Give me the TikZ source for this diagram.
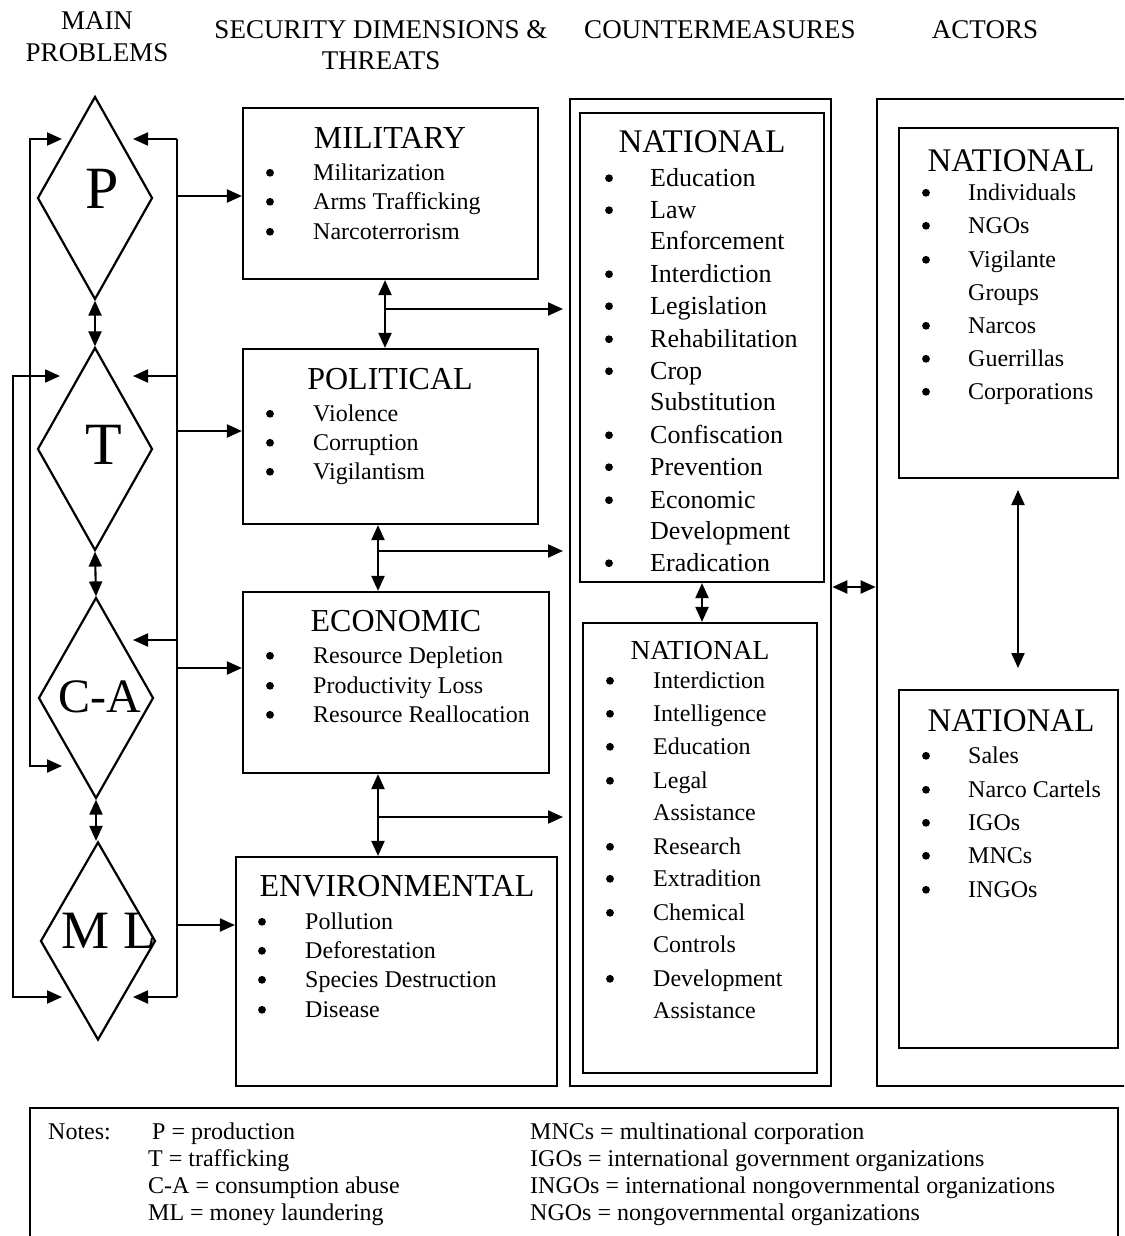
\documentclass[tikz,border=0pt]{standalone}
\usepackage{fontspec}
\setmainfont{Liberation Serif}
\usetikzlibrary{arrows.meta,shapes.geometric}
\newcommand\fsz[1]{\fontsize{#1}{#1}\selectfont}
\newcommand\bbox[6]{\node[#1,minimum width={#4pt-#2pt},minimum height={#5pt-#3pt}] (#6) at ({(#2+#4)/2},{(#3+#5)/2}) {};}
\newcommand\bitem[5]{\fill (#1,{#3-0.3*#4}) circle (3.9);\node[tl,font=\fsz{#4}] at (#2,#3) {#5};}
\begin{document}
\begin{tikzpicture}[x=1pt,y=-1pt,
  ln/.style={line width=2.1pt},
  arr/.style={ln,-{Triangle[length=15pt,width=13pt]}},
  dar/.style={ln,{Triangle[length=15pt,width=13pt]}-{Triangle[length=15pt,width=13pt]}},
  dia/.style={draw,diamond,line width=2.2pt,inner sep=0pt,aspect=0.567},
  bx/.style={draw,line width=2.2pt,inner sep=0pt},
  obx/.style={draw,line width=2.7pt,inner sep=0pt},
  tl/.style={inner sep=0pt,anchor=base west},
  tc/.style={inner sep=0pt,anchor=base},
]
\useasboundingbox (0,0) rectangle (1124,1236);
\clip (0,0) rectangle (1124,1236);
\fill[white] (0,0) rectangle (1124,1236);

% headers
\node[tc,font=\fsz{27}] (h1a) at (97,30) {MAIN};
\node[tc,font=\fsz{27}] (h1b) at (97,62) {PROBLEMS};
\node[tc,font=\fsz{27}] (h2a) at (381,39) {SECURITY DIMENSIONS \&};
\node[tc,font=\fsz{27}] (h2b) at (381,70) {THREATS};
\node[tc,font=\fsz{27}] (h3) at (720,39) {COUNTERMEASURES};
\node[tc,font=\fsz{27}] (h4) at (985,39) {ACTORS};

% diamonds
\node[dia,minimum width=115pt,minimum height=203pt] (P) at (95,198) {};
\node[dia,minimum width=115pt,minimum height=203pt] (T) at (95,449) {};
\node[dia,minimum width=115pt,minimum height=201pt] (CA) at (96,698) {};
\node[dia,minimum width=115pt,minimum height=198pt] (ML) at (98,941) {};
\node[inner sep=0pt,font=\fsz{60}] (Pl) at (102,188.5) {P};
\node[inner sep=0pt,font=\fsz{60}] (Tl) at (104,445) {T};
\node[inner sep=0pt,font=\fsz{48}] (CAl) at (100,697) {C-A};
\node[inner sep=0pt,font=\fsz{54}] (MLl) at (109,931) {M L};

\draw[dar] (P.south) -- (T.north);
\draw[dar] (T.south) -- (CA.north);
\draw[dar] (CA.south) -- (CA.south |- ML.north);

% buses
\coordinate (l1a) at (62,139); \coordinate (l1b) at (62,766);
\coordinate (l2a) at (60,376); \coordinate (l2b) at (62,997);
\draw[dar] (l1a) -- (30,139) -- (30,766) -- (l1b);
\draw[dar] (l2a) -- (13,376) -- (13,997) -- (l2b);

\coordinate (rb1) at (177,139); \coordinate (rb2) at (177,376);
\coordinate (rb3) at (177,640); \coordinate (rb4) at (177,997);
\draw[ln] (rb1) -- (rb4);
\draw[arr] (rb1) -- (133,139);
\draw[arr] (rb2) -- (133,376);
\draw[arr] (rb3) -- (133,640);
\draw[arr] (rb4) -- (133,997);

% security boxes
\bbox{bx}{243}{108}{538}{279}{MIL}
\bbox{bx}{243}{349}{538}{524}{POL}
\bbox{bx}{243}{592}{549}{773}{ECO}
\bbox{bx}{236}{857}{557}{1086}{ENV}

\coordinate (rm) at (177,196); \coordinate (rp) at (177,431);
\coordinate (re) at (177,668); \coordinate (rv) at (177,925);
\draw[arr] (rm) -- (MIL.west |- rm);
\draw[arr] (rp) -- (POL.west |- rp);
\draw[arr] (re) -- (ECO.west |- re);
\draw[arr] (rv) -- (ENV.west |- rv);

% countermeasure and actor boxes
\bbox{obx}{570}{99}{831}{1086}{CM}
\bbox{bx}{580}{113}{824}{582}{CMa}
\bbox{bx}{583}{623}{817}{1073}{CMb}
\bbox{obx}{877}{99}{1160}{1086}{AC}
\bbox{bx}{899}{128}{1118}{478}{ACa}
\bbox{bx}{899}{690}{1118}{1048}{ACb}
\bbox{bx}{30}{1108}{1118}{1300}{NT}

% vertical links between security boxes
\coordinate (v1) at (385,309); \coordinate (v2) at (378,551); \coordinate (v3) at (378,817);
\draw[dar] (MIL.south -| v1) -- (POL.north -| v1);
\draw[arr] (v1) -- (563,309);
\draw[dar] (POL.south -| v2) -- (ECO.north -| v2);
\draw[arr] (v2) -- (563,551);
\draw[dar] (ECO.south -| v3) -- (ENV.north -| v3);
\draw[arr] (v3) -- (563,817);

\draw[dar] (CMa.south) -- (CMb.north -| CMa.south);
\coordinate (ca1) at (831,587);
\draw[dar] (CM.east |- ca1) -- (AC.west |- ca1);
\draw[dar] (1018,490) -- (1018,668);

% security texts
\node[tc,font=\fsz{32}] (tMIL) at (390,148) {MILITARY};
\bitem{270}{313}{180}{24}{Militarization}
\bitem{270}{313}{209}{24}{Arms Trafficking}
\bitem{270}{313}{239}{24}{Narcoterrorism}
\node[tc,font=\fsz{32}] (tPOL) at (390,389) {POLITICAL};
\bitem{270}{313}{421}{24}{Violence}
\bitem{270}{313}{450}{24}{Corruption}
\bitem{270}{313}{479}{24}{Vigilantism}
\node[tc,font=\fsz{32}] (tECO) at (396,631) {ECONOMIC};
\bitem{270}{313}{663}{24}{Resource Depletion}
\bitem{270}{313}{693}{24}{Productivity Loss}
\bitem{270}{313}{722}{24}{Resource Reallocation}
\node[tc,font=\fsz{32}] (tENV) at (397,896) {ENVIRONMENTAL};
\bitem{262}{305}{929}{24}{Pollution}
\bitem{262}{305}{958}{24}{Deforestation}
\bitem{262}{305}{987}{24}{Species Destruction}
\bitem{262}{305}{1017}{24}{Disease}

% countermeasures top
\node[tc,font=\fsz{33}] (tCMa) at (702,152) {NATIONAL};
\bitem{609}{650}{186}{26}{Education}
\bitem{609}{650}{218}{26}{Law}
\node[tl,font=\fsz{26}] at (650,249) {Enforcement};
\bitem{609}{650}{282}{26}{Interdiction}
\bitem{609}{650}{314}{26}{Legislation}
\bitem{609}{650}{347}{26}{Rehabilitation}
\bitem{609}{650}{379}{26}{Crop}
\node[tl,font=\fsz{26}] at (650,410) {Substitution};
\bitem{609}{650}{443}{26}{Confiscation}
\bitem{609}{650}{475}{26}{Prevention}
\bitem{609}{650}{508}{26}{Economic}
\node[tl,font=\fsz{26}] at (650,539) {Development};
\bitem{609}{650}{571}{26}{Eradication}

% countermeasures bottom
\node[tc,font=\fsz{27.5}] (tCMb) at (700,659) {NATIONAL};
\bitem{610}{653}{688}{24}{Interdiction}
\bitem{610}{653}{721}{24}{Intelligence}
\bitem{610}{653}{754}{24}{Education}
\bitem{610}{653}{788}{24}{Legal}
\node[tl,font=\fsz{24}] at (653,820) {Assistance};
\bitem{610}{653}{854}{24}{Research}
\bitem{610}{653}{886}{24}{Extradition}
\bitem{610}{653}{920}{24}{Chemical}
\node[tl,font=\fsz{24}] at (653,952) {Controls};
\bitem{610}{653}{986}{24}{Development}
\node[tl,font=\fsz{24}] at (653,1018) {Assistance};

% actors
\node[tc,font=\fsz{33}] (tACa) at (1011,171) {NATIONAL};
\bitem{926}{968}{200}{24}{Individuals}
\bitem{926}{968}{233}{24}{NGOs}
\bitem{926}{968}{267}{24}{Vigilante}
\node[tl,font=\fsz{24}] at (968,300) {Groups};
\bitem{926}{968}{333}{24}{Narcos}
\bitem{926}{968}{366}{24}{Guerrillas}
\bitem{926}{968}{399}{24}{Corporations}
\node[tc,font=\fsz{33}] (tACb) at (1011,731) {NATIONAL};
\bitem{926}{968}{763}{24}{Sales}
\bitem{926}{968}{797}{24}{Narco Cartels}
\bitem{926}{968}{830}{24}{IGOs}
\bitem{926}{968}{863}{24}{MNCs}
\bitem{926}{968}{897}{24}{INGOs}

% notes
\node[tl,font=\fsz{24}] (n0) at (48,1139) {Notes:};
\node[tl,font=\fsz{24}] (n1) at (152,1139) {P = production};
\node[tl,font=\fsz{24}] (n2) at (148,1166) {T = trafficking};
\node[tl,font=\fsz{24}] (n3) at (148,1193) {C-A = consumption abuse};
\node[tl,font=\fsz{24}] (n4) at (148,1220) {ML = money laundering};
\node[tl,font=\fsz{24}] (n5) at (530,1139) {MNCs = multinational corporation};
\node[tl,font=\fsz{24}] (n6) at (530,1166) {IGOs = international government organizations};
\node[tl,font=\fsz{24}] (n7) at (530,1193) {INGOs = international nongovernmental organizations};
\node[tl,font=\fsz{24}] (n8) at (530,1220) {NGOs = nongovernmental organizations};
\end{tikzpicture}
\end{document}
